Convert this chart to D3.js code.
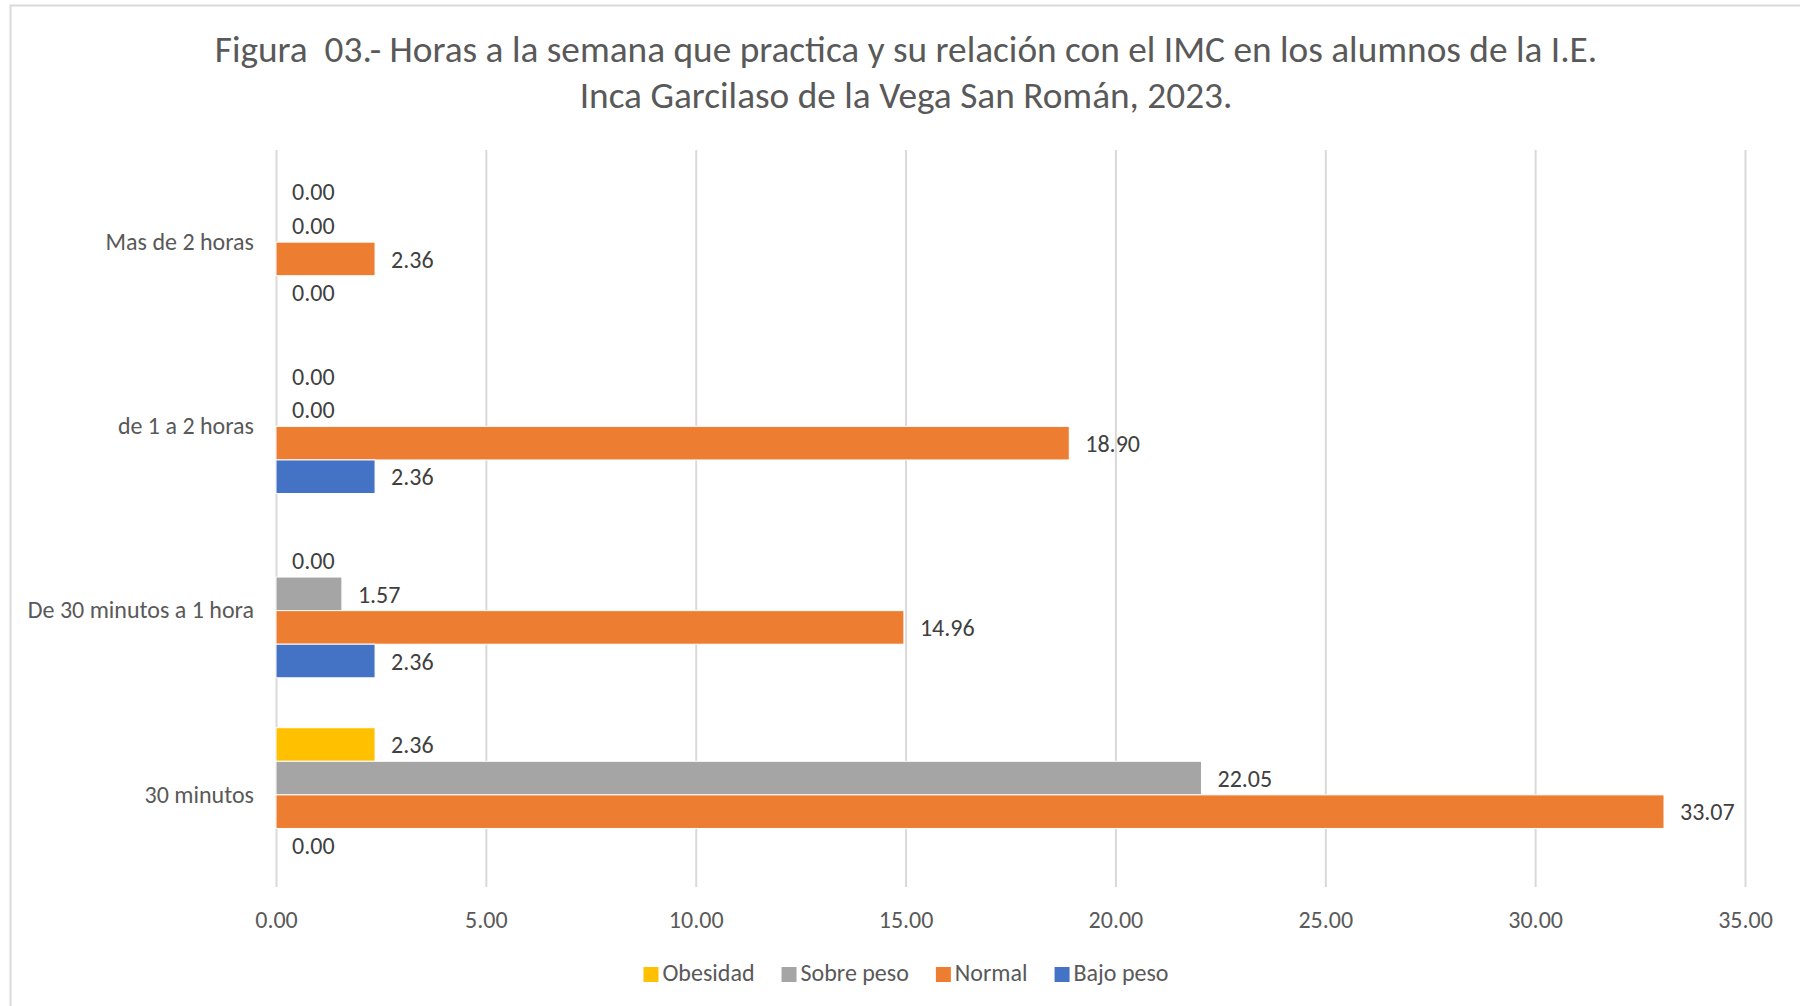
<!DOCTYPE html>
<html>
<head>
<meta charset="utf-8">
<script src="https://cdn.jsdelivr.net/npm/d3@7"></script>
<style>
  body { margin: 0; background: #fff; }
  svg { display: block; }
  text { font-family: Carlito, Calibri, Lato, sans-serif; }
</style>
</head>
<body>
<svg width="1800" height="1006"></svg>
<script>
// categories top to bottom, as in the picture
var categories = ["Mas de 2 horas", "de 1 a 2 horas", "De 30 minutos a 1 hora", "30 minutos"];
var seriesNames = ["Obesidad", "Sobre peso", "Normal", "Bajo peso"];
var seriesColors = ["#ffc000", "#a5a5a5", "#ed7d31", "#4472c4"];

// values per category (same order as categories)
var obesidad = [0.00, 0.00, 0.00, 2.36];
var sobrePeso = [0.00, 0.00, 1.57, 22.05];
var normal = [2.36, 18.90, 14.96, 33.07];
var bajoPeso = [0.00, 2.36, 2.36, 0.00];

var xTicks = [0, 5, 10, 15, 20, 25, 30, 35];

var titleLines = ["Figura  03.- Horas a la semana que practica y su relación con el IMC en los alumnos de la I.E.",
    "Inca Garcilaso de la Vega San Román, 2023."];

var svg = d3.select("svg");

// outer chart border
svg.append("rect")
    .attr("x", 10.5).attr("y", 5.5)
    .attr("width", 1800).attr("height", 1010)
    .attr("fill", "none")
    .attr("stroke", "#d9d9d9")
    .attr("stroke-width", 2);

var plot = { left: 276, right: 1745, top: 150, bottom: 887 };

var x = d3.scaleLinear().domain([0, 35]).range([plot.left, plot.right]);

var y = d3.scaleBand()
    .domain(categories)
    .range([plot.top, plot.bottom])
    .paddingInner(0.271)
    .paddingOuter(0.1355);

var ySub = d3.scaleBand()
    .domain(seriesNames)
    .range([0, y.bandwidth()]);

var color = d3.scaleOrdinal().domain(seriesNames).range(seriesColors);

// title
svg.selectAll(".title")
    .data(titleLines)
    .enter().append("text")
    .attr("class", "title")
    .attr("x", 906)
    .attr("y", function(d, i) { return 53 + i * 46; })
    .attr("text-anchor", "middle")
    .attr("dominant-baseline", "middle")
    .attr("fill", "#595959")
    .style("font-size", "37.3px")
    .style("white-space", "pre")
    .text(function(d) { return d; });

// gridlines + tick labels via axis
var xAxis = svg.append("g")
    .attr("transform", "translate(0," + plot.bottom + ")")
    .call(d3.axisBottom(x)
        .tickValues(xTicks)
        .tickSize(-(plot.bottom - plot.top))
        .tickPadding(24)
        .tickFormat(d3.format(".2f")));
xAxis.select(".domain").remove();
xAxis.selectAll(".tick line").attr("stroke", "#d9d9d9").attr("stroke-width", 2);
xAxis.selectAll(".tick text")
    .attr("fill", "#595959")
    .style("font-size", "24px")
    .style("font-family", "Carlito, Calibri, Lato, sans-serif");

// category labels
svg.selectAll(".cat")
    .data(categories)
    .enter().append("text")
    .attr("class", "cat")
    .attr("x", 254)
    .attr("y", function(d) { return y(d) + y.bandwidth() / 2 + 2; })
    .attr("text-anchor", "end")
    .attr("dominant-baseline", "middle")
    .attr("fill", "#595959")
    .style("font-size", "24px")
    .text(function(d) { return d; });

var table = [];
var seriesValues = [obesidad, sobrePeso, normal, bajoPeso];
categories.forEach(function(c, i) {
    seriesNames.forEach(function(s, j) {
        table.push({ cat: c, series: s, value: seriesValues[j][i] });
    });
});

var bars = svg.append("g");
bars.selectAll("rect")
    .data(table)
    .enter().append("rect")
    .attr("x", x(0))
    .attr("y", function(d) { return y(d.cat) + ySub(d.series); })
    .attr("width", function(d) { return x(d.value) - x(0); })
    .attr("height", ySub.bandwidth())
    .attr("fill", function(d) { return color(d.series); })
    .attr("stroke", "#fff")
    .attr("stroke-width", 1);

bars.selectAll("text")
    .data(table)
    .enter().append("text")
    .attr("x", function(d) { return x(d.value) + 16; })
    .attr("y", function(d) { return y(d.cat) + ySub(d.series) + ySub.bandwidth() / 2 + 3; })
    .attr("dominant-baseline", "middle")
    .attr("fill", "#404040")
    .style("font-size", "24px")
    .text(function(d) { return d.value.toFixed(2); });

// legend, centred under the chart
var legend = svg.append("g");
var lx = 0;
seriesNames.forEach(function(s, i) {
    var item = legend.append("g").attr("transform", "translate(" + lx + ",0)");
    item.append("rect")
        .attr("x", 0).attr("y", -8)
        .attr("width", 15).attr("height", 15)
        .attr("fill", seriesColors[i]);
    var t = item.append("text")
        .attr("x", 19)
        .attr("dominant-baseline", "middle")
        .attr("fill", "#595959")
        .style("font-size", "24px")
        .text(s);
    lx += 19 + t.node().getComputedTextLength() + 27;
});
lx -= 27;
legend.attr("transform", "translate(" + (906 - lx / 2) + ",975)");
</script>
</body>
</html>
